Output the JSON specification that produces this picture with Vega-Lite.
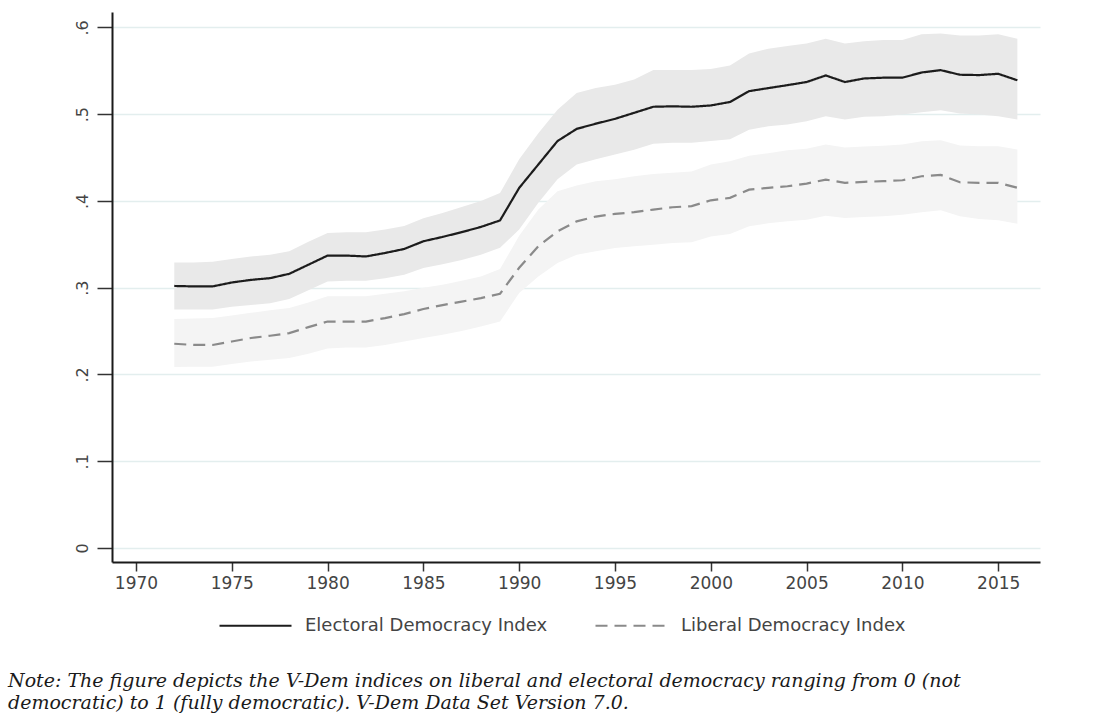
{
  "$schema": "https://vega.github.io/schema/vega-lite/v6.json",
  "width": 928,
  "height": 550,
  "autosize": {"type": "none"},
  "padding": {"left": 112, "top": 12, "right": 74, "bottom": 165},
  "background": "white",
  "config": {
    "view": {"stroke": null},
    "axis": {"labelFont": "DejaVu Sans", "labelColor": "#444", "domainColor": "#1a1a1a", "domainWidth": 2, "tickColor": "#333", "tickWidth": 1.5}
  },
  "title": {
    "text": ["Note: The figure depicts the V-Dem indices on liberal and electoral democracy ranging from 0 (not", "democratic) to 1 (fully democratic). V-Dem Data Set Version 7.0."],
    "orient": "bottom",
    "anchor": "start",
    "frame": "group",
    "dx": -104,
    "offset": 37,
    "font": "DejaVu Serif",
    "fontStyle": "italic",
    "fontWeight": "normal",
    "fontSize": 19,
    "lineHeight": 22,
    "color": "#1a1a1a"
  },
  "data": {"values": [
    {"series":"Electoral Democracy Index","year":1972,"value":0.302,"lower":0.275,"upper":0.329},
    {"series":"Electoral Democracy Index","year":1973,"value":0.3015,"lower":0.275,"upper":0.329},
    {"series":"Electoral Democracy Index","year":1974,"value":0.3015,"lower":0.275,"upper":0.33},
    {"series":"Electoral Democracy Index","year":1975,"value":0.306,"lower":0.278,"upper":0.333},
    {"series":"Electoral Democracy Index","year":1976,"value":0.309,"lower":0.28,"upper":0.336},
    {"series":"Electoral Democracy Index","year":1977,"value":0.311,"lower":0.282,"upper":0.338},
    {"series":"Electoral Democracy Index","year":1978,"value":0.316,"lower":0.287,"upper":0.342},
    {"series":"Electoral Democracy Index","year":1979,"value":0.3265,"lower":0.297,"upper":0.353},
    {"series":"Electoral Democracy Index","year":1980,"value":0.337,"lower":0.307,"upper":0.363},
    {"series":"Electoral Democracy Index","year":1981,"value":0.337,"lower":0.308,"upper":0.364},
    {"series":"Electoral Democracy Index","year":1982,"value":0.336,"lower":0.308,"upper":0.364},
    {"series":"Electoral Democracy Index","year":1983,"value":0.34,"lower":0.311,"upper":0.367},
    {"series":"Electoral Democracy Index","year":1984,"value":0.3446,"lower":0.315,"upper":0.371},
    {"series":"Electoral Democracy Index","year":1985,"value":0.3535,"lower":0.3227,"upper":0.38},
    {"series":"Electoral Democracy Index","year":1986,"value":0.3585,"lower":0.327,"upper":0.386},
    {"series":"Electoral Democracy Index","year":1987,"value":0.364,"lower":0.332,"upper":0.393},
    {"series":"Electoral Democracy Index","year":1988,"value":0.37,"lower":0.338,"upper":0.4},
    {"series":"Electoral Democracy Index","year":1989,"value":0.3775,"lower":0.346,"upper":0.409},
    {"series":"Electoral Democracy Index","year":1990,"value":0.415,"lower":0.367,"upper":0.448},
    {"series":"Electoral Democracy Index","year":1991,"value":0.442,"lower":0.398,"upper":0.478},
    {"series":"Electoral Democracy Index","year":1992,"value":0.469,"lower":0.425,"upper":0.505},
    {"series":"Electoral Democracy Index","year":1993,"value":0.483,"lower":0.442,"upper":0.5245},
    {"series":"Electoral Democracy Index","year":1994,"value":0.489,"lower":0.448,"upper":0.53},
    {"series":"Electoral Democracy Index","year":1995,"value":0.4946,"lower":0.4535,"upper":0.534},
    {"series":"Electoral Democracy Index","year":1996,"value":0.5015,"lower":0.459,"upper":0.54},
    {"series":"Electoral Democracy Index","year":1997,"value":0.5085,"lower":0.466,"upper":0.551},
    {"series":"Electoral Democracy Index","year":1998,"value":0.509,"lower":0.467,"upper":0.551},
    {"series":"Electoral Democracy Index","year":1999,"value":0.5085,"lower":0.467,"upper":0.551},
    {"series":"Electoral Democracy Index","year":2000,"value":0.51,"lower":0.469,"upper":0.552},
    {"series":"Electoral Democracy Index","year":2001,"value":0.514,"lower":0.471,"upper":0.556},
    {"series":"Electoral Democracy Index","year":2002,"value":0.5265,"lower":0.482,"upper":0.57},
    {"series":"Electoral Democracy Index","year":2003,"value":0.53,"lower":0.486,"upper":0.5754},
    {"series":"Electoral Democracy Index","year":2004,"value":0.5334,"lower":0.488,"upper":0.5784},
    {"series":"Electoral Democracy Index","year":2005,"value":0.537,"lower":0.4919,"upper":0.5815},
    {"series":"Electoral Democracy Index","year":2006,"value":0.5446,"lower":0.4977,"upper":0.5869},
    {"series":"Electoral Democracy Index","year":2007,"value":0.537,"lower":0.4938,"upper":0.5815},
    {"series":"Electoral Democracy Index","year":2008,"value":0.5411,"lower":0.4969,"upper":0.584},
    {"series":"Electoral Democracy Index","year":2009,"value":0.542,"lower":0.4977,"upper":0.5854},
    {"series":"Electoral Democracy Index","year":2010,"value":0.542,"lower":0.4996,"upper":0.5854},
    {"series":"Electoral Democracy Index","year":2011,"value":0.548,"lower":0.5023,"upper":0.592},
    {"series":"Electoral Democracy Index","year":2012,"value":0.5507,"lower":0.5046,"upper":0.593},
    {"series":"Electoral Democracy Index","year":2013,"value":0.5454,"lower":0.5008,"upper":0.5907},
    {"series":"Electoral Democracy Index","year":2014,"value":0.545,"lower":0.4996,"upper":0.5907},
    {"series":"Electoral Democracy Index","year":2015,"value":0.5465,"lower":0.4977,"upper":0.592},
    {"series":"Electoral Democracy Index","year":2016,"value":0.539,"lower":0.4938,"upper":0.587},
    {"series":"Liberal Democracy Index","year":1972,"value":0.2354,"lower":0.2085,"upper":0.264},
    {"series":"Liberal Democracy Index","year":1973,"value":0.234,"lower":0.209,"upper":0.2645},
    {"series":"Liberal Democracy Index","year":1974,"value":0.234,"lower":0.209,"upper":0.265},
    {"series":"Liberal Democracy Index","year":1975,"value":0.238,"lower":0.212,"upper":0.268},
    {"series":"Liberal Democracy Index","year":1976,"value":0.242,"lower":0.215,"upper":0.271},
    {"series":"Liberal Democracy Index","year":1977,"value":0.2446,"lower":0.217,"upper":0.274},
    {"series":"Liberal Democracy Index","year":1978,"value":0.2477,"lower":0.219,"upper":0.2765},
    {"series":"Liberal Democracy Index","year":1979,"value":0.2546,"lower":0.224,"upper":0.283},
    {"series":"Liberal Democracy Index","year":1980,"value":0.261,"lower":0.23,"upper":0.29},
    {"series":"Liberal Democracy Index","year":1981,"value":0.261,"lower":0.231,"upper":0.29},
    {"series":"Liberal Democracy Index","year":1982,"value":0.261,"lower":0.231,"upper":0.29},
    {"series":"Liberal Democracy Index","year":1983,"value":0.265,"lower":0.234,"upper":0.293},
    {"series":"Liberal Democracy Index","year":1984,"value":0.2696,"lower":0.238,"upper":0.296},
    {"series":"Liberal Democracy Index","year":1985,"value":0.2754,"lower":0.242,"upper":0.3},
    {"series":"Liberal Democracy Index","year":1986,"value":0.28,"lower":0.2458,"upper":0.3035},
    {"series":"Liberal Democracy Index","year":1987,"value":0.284,"lower":0.25,"upper":0.308},
    {"series":"Liberal Democracy Index","year":1988,"value":0.288,"lower":0.2554,"upper":0.313},
    {"series":"Liberal Democracy Index","year":1989,"value":0.293,"lower":0.261,"upper":0.3215},
    {"series":"Liberal Democracy Index","year":1990,"value":0.323,"lower":0.294,"upper":0.36},
    {"series":"Liberal Democracy Index","year":1991,"value":0.3477,"lower":0.313,"upper":0.39},
    {"series":"Liberal Democracy Index","year":1992,"value":0.365,"lower":0.3285,"upper":0.411},
    {"series":"Liberal Democracy Index","year":1993,"value":0.3765,"lower":0.338,"upper":0.4177},
    {"series":"Liberal Democracy Index","year":1994,"value":0.382,"lower":0.342,"upper":0.4227},
    {"series":"Liberal Democracy Index","year":1995,"value":0.385,"lower":0.3457,"upper":0.425},
    {"series":"Liberal Democracy Index","year":1996,"value":0.387,"lower":0.3477,"upper":0.4285},
    {"series":"Liberal Democracy Index","year":1997,"value":0.39,"lower":0.3496,"upper":0.431},
    {"series":"Liberal Democracy Index","year":1998,"value":0.3927,"lower":0.3515,"upper":0.4325},
    {"series":"Liberal Democracy Index","year":1999,"value":0.394,"lower":0.3525,"upper":0.434},
    {"series":"Liberal Democracy Index","year":2000,"value":0.4007,"lower":0.359,"upper":0.442},
    {"series":"Liberal Democracy Index","year":2001,"value":0.4035,"lower":0.362,"upper":0.4457},
    {"series":"Liberal Democracy Index","year":2002,"value":0.413,"lower":0.3707,"upper":0.452},
    {"series":"Liberal Democracy Index","year":2003,"value":0.415,"lower":0.3742,"upper":0.455},
    {"series":"Liberal Democracy Index","year":2004,"value":0.4169,"lower":0.3765,"upper":0.4585},
    {"series":"Liberal Democracy Index","year":2005,"value":0.42,"lower":0.3784,"upper":0.46},
    {"series":"Liberal Democracy Index","year":2006,"value":0.4246,"lower":0.383,"upper":0.465},
    {"series":"Liberal Democracy Index","year":2007,"value":0.4208,"lower":0.3804,"upper":0.4615},
    {"series":"Liberal Democracy Index","year":2008,"value":0.422,"lower":0.3815,"upper":0.4627},
    {"series":"Liberal Democracy Index","year":2009,"value":0.4227,"lower":0.3823,"upper":0.4635},
    {"series":"Liberal Democracy Index","year":2010,"value":0.4238,"lower":0.3842,"upper":0.465},
    {"series":"Liberal Democracy Index","year":2011,"value":0.4284,"lower":0.3869,"upper":0.4688},
    {"series":"Liberal Democracy Index","year":2012,"value":0.43,"lower":0.3892,"upper":0.47},
    {"series":"Liberal Democracy Index","year":2013,"value":0.4215,"lower":0.3823,"upper":0.4638},
    {"series":"Liberal Democracy Index","year":2014,"value":0.4208,"lower":0.3792,"upper":0.463},
    {"series":"Liberal Democracy Index","year":2015,"value":0.4208,"lower":0.3777,"upper":0.463},
    {"series":"Liberal Democracy Index","year":2016,"value":0.4151,"lower":0.3738,"upper":0.4592}
  ]},
  "encoding": {
    "x": {
      "field": "year", "type": "quantitative",
      "scale": {"domain": [1968.75, 2017.18], "nice": false, "zero": false},
      "axis": {"title": null, "values": [1970, 1975, 1980, 1985, 1990, 1995, 2000, 2005, 2010, 2015], "format": "d", "grid": false, "tickSize": 9, "labelPadding": 4, "labelFontSize": 17, "labelFlush": false}
    }
  },
  "layer": [
    {
      "mark": {"type": "area", "opacity": 1},
      "encoding": {
        "y": {"field": "lower", "type": "quantitative", "scale": {"domain": [-0.0161, 0.6177], "nice": false, "zero": false},
          "axis": {"title": null, "values": [0, 0.1, 0.2, 0.3, 0.4, 0.5, 0.6],
            "labelExpr": "datum.value == 0 ? '0' : replace(format(datum.value, '.1f'), '0.', '.')",
            "labelAngle": 270, "labelAlign": "center", "labelBaseline": "bottom", "labelFontSize": 16,
            "tickSize": 15, "labelPadding": 7, "grid": true, "gridColor": "#e3eeee", "gridWidth": 1.5, "labelFlush": false}},
        "y2": {"field": "upper"},
        "detail": {"field": "series", "type": "nominal"},
        "fill": {"condition": {"test": "datum.series === 'Electoral Democracy Index'", "value": "#e9e9e9"}, "value": "#f4f4f4"}
      }
    },
    {
      "mark": {"type": "line", "strokeWidth": 2.2},
      "encoding": {
        "y": {"field": "value", "type": "quantitative"},
        "stroke": {"field": "series", "type": "nominal", "title": null, "scale": {"range": ["#1c1c1c", "#8a8a8a"]},
          "legend": {"orient": "none", "legendX": 106, "legendY": 576, "direction": "horizontal", "symbolType": "stroke", "symbolSize": 5184, "symbolStrokeWidth": 2.2, "labelFont": "DejaVu Sans", "labelFontSize": 18, "labelColor": "#444", "labelOffset": 12, "columnPadding": 43, "labelLimit": 400}},
        "strokeDash": {"field": "series", "type": "nominal", "title": null, "scale": {"range": [[1, 0], [12, 7]]}}
      }
    }
  ]
}
